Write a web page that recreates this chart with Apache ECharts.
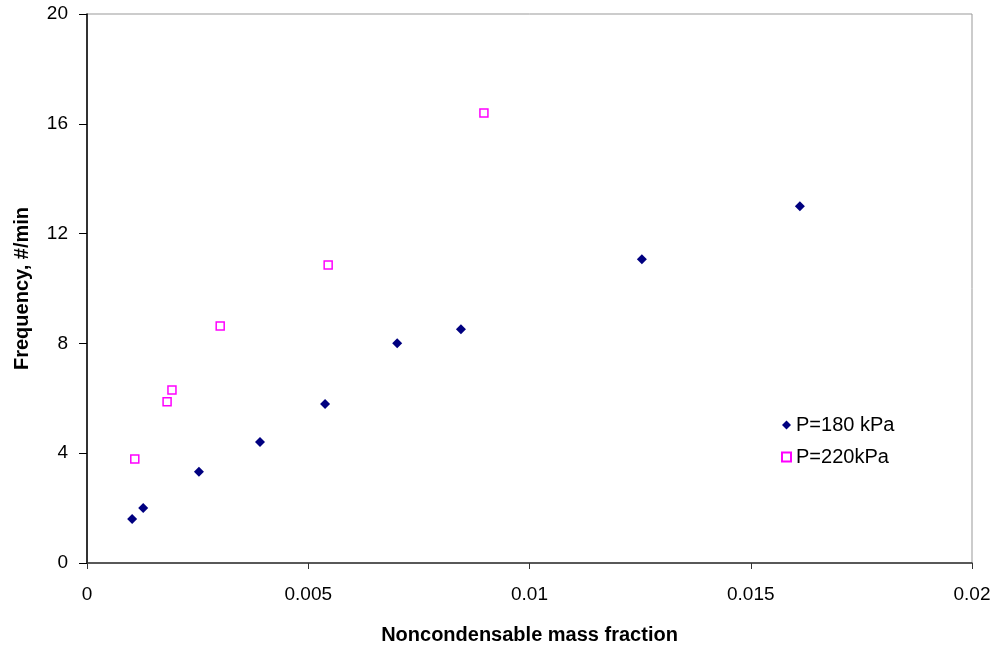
<!DOCTYPE html>
<html><head><meta charset="utf-8">
<script src="https://cdn.jsdelivr.net/npm/echarts@6/dist/echarts.min.js"></script>
<style>html,body{margin:0;padding:0;background:#fff}#c{width:1000px;height:647px}</style>
</head><body><div id="c"></div>
<script>
const s180x = [0.00102, 0.00127, 0.00253, 0.00391, 0.00538, 0.00701, 0.00845, 0.01254, 0.01611];
const s180y = [1.60, 2.00, 3.32, 4.41, 5.79, 8.01, 8.52, 11.07, 13.00];
const s220x = [0.00108, 0.00181, 0.00192, 0.00301, 0.00545, 0.00897];
const s220y = [3.79, 5.87, 6.30, 8.63, 10.86, 16.39];
const xTicks = [0, 0.005, 0.01, 0.015, 0.02];
const yTicks = [0, 4, 8, 12, 16, 20];
const F = 'Liberation Sans, Arial, sans-serif';
const chart = echarts.init(document.getElementById('c'));
chart.setOption({
  animation: false,
  grid: {left: 87, right: 28, top: 14, bottom: 84, show: true, borderColor: '#999', borderWidth: 1,
         containLabel: false, outerBoundsMode: 'none'},
  legend: {
    left: 776, top: 410, orient: 'vertical', itemGap: 12, itemWidth: 9, itemHeight: 9,
    textStyle: {fontFamily: F, fontSize: 20, color: '#000'},
    data: ['P=180 kPa', 'P=220kPa']
  },
  xAxis: {
    type: 'value', min: 0, max: 0.02, interval: 0.005,
    name: 'Noncondensable mass fraction', nameLocation: 'middle', nameGap: 62,
    nameTextStyle: {fontFamily: F, fontSize: 20, fontWeight: 'bold', color: '#000'},
    axisLine: {lineStyle: {color: '#333', width: 1.5}},
    axisTick: {show: true, length: 6, lineStyle: {color: '#333'}},
    axisLabel: {fontFamily: F, fontSize: 19, color: '#000', margin: 22,
      formatter: v => { const t = xTicks.find(k => Math.abs(k - v) < 1e-9); return t === undefined ? '' : String(t); }},
    splitLine: {show: false}
  },
  yAxis: {
    type: 'value', min: 0, max: 20, interval: 4,
    name: 'Frequency, #/min', nameLocation: 'middle', nameGap: 55, nameRotate: 90,
    nameTextStyle: {fontFamily: F, fontSize: 20, fontWeight: 'bold', color: '#000'},
    axisLine: {lineStyle: {color: '#000', width: 1.5}},
    axisTick: {show: true, length: 8, lineStyle: {color: '#000'}},
    axisLabel: {fontFamily: F, fontSize: 19, color: '#000', margin: 19,
      formatter: v => yTicks.includes(v) ? String(v) : ''},
    splitLine: {show: false}
  },
  series: [
    {name: 'P=180 kPa', type: 'scatter', symbol: 'diamond', symbolSize: 10,
     itemStyle: {color: '#000080', opacity: 1},
     data: s180x.map((x, i) => [x, s180y[i]])},
    {name: 'P=220kPa', type: 'scatter', symbol: 'rect', symbolSize: 8,
     itemStyle: {color: '#ffffff', borderColor: '#ff00ff', borderWidth: 1.5, opacity: 1},
     data: s220x.map((x, i) => [x, s220y[i]])}
  ]
});
</script></body></html>
